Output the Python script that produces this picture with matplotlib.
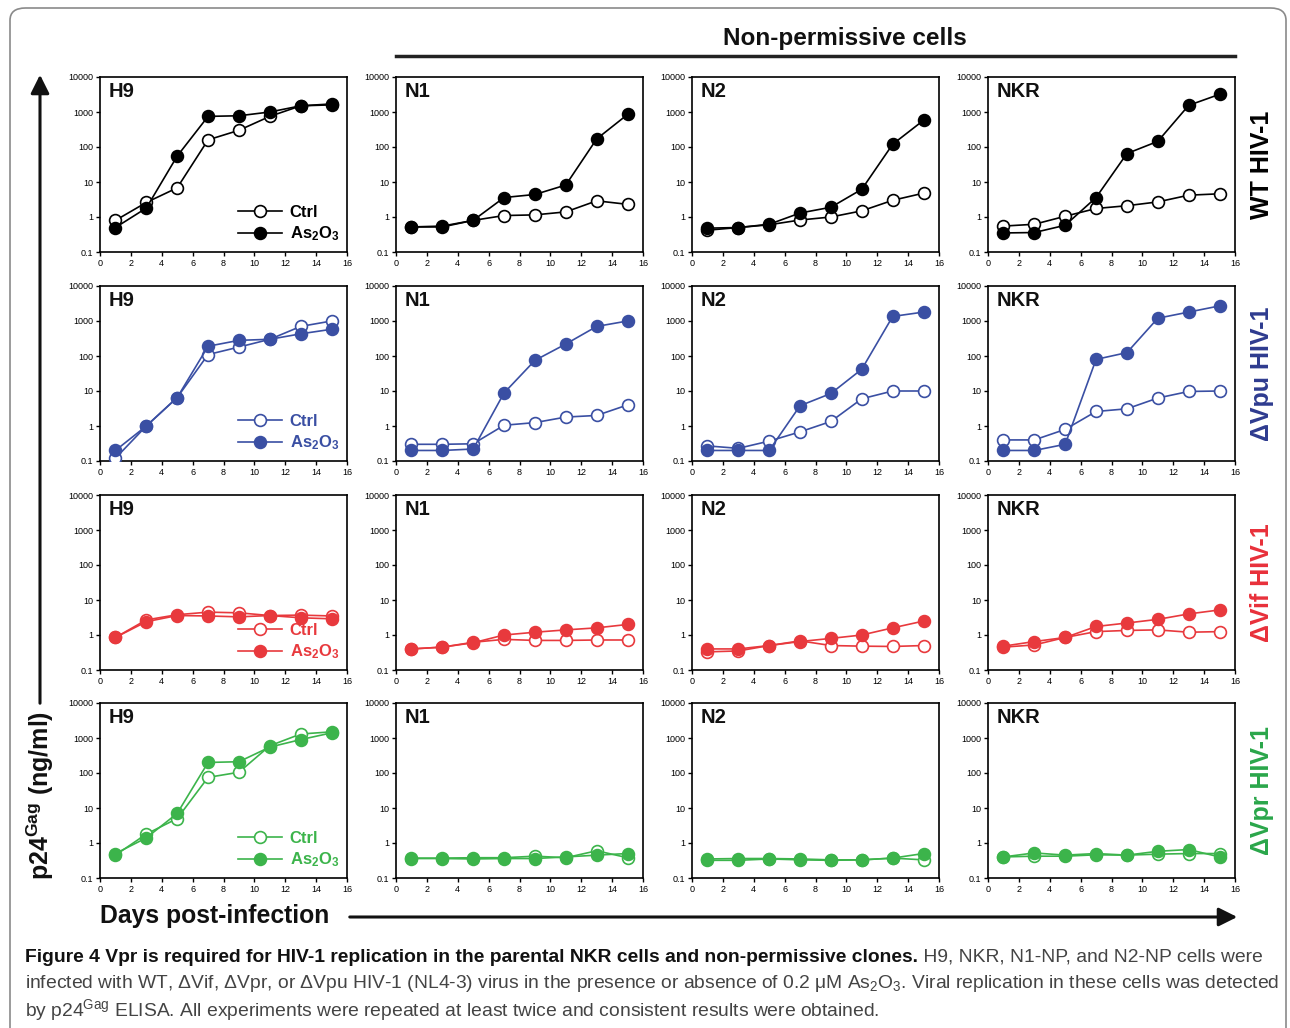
import matplotlib
matplotlib.use('Agg')
import matplotlib.pyplot as plt
from matplotlib.patches import FancyBboxPatch, FancyArrowPatch
from matplotlib.lines import Line2D

plt.rcParams['font.family'] = ['Liberation Sans', 'DejaVu Sans']
plt.rcParams['mathtext.fontset'] = 'custom'
plt.rcParams['mathtext.rm'] = 'Liberation Sans'
plt.rcParams['mathtext.bf'] = 'Liberation Sans:bold'
plt.rcParams['mathtext.it'] = 'Liberation Sans:italic'

days = [1, 3, 5, 7, 9, 11, 13, 15]
cells = ['H9', 'N1', 'N2', 'NKR']
virus_labels = ['WT HIV-1', '\u0394Vpu HIV-1', '\u0394Vif HIV-1', '\u0394Vpr HIV-1']
line_colors = ['#000000', '#3a4fa3', '#e8393d', '#3cb44b']
label_colors = ['#000000', '#2e3b8f', '#e8303a', '#2aa64a']

# WT HIV-1
wt_ctrl_h9 = [0.8, 2.6, 6.8, 160, 300, 750, 1500, 1700]
wt_as_h9 = [0.5, 1.8, 55, 750, 780, 1000, 1500, 1600]
wt_ctrl_n1 = [0.52, 0.52, 0.8, 1.1, 1.15, 1.4, 2.9, 2.3]
wt_as_n1 = [0.52, 0.55, 0.8, 3.6, 4.4, 8.2, 170, 850]
wt_ctrl_n2 = [0.42, 0.5, 0.6, 0.82, 1.0, 1.5, 3.0, 4.8]
wt_as_n2 = [0.48, 0.5, 0.62, 1.3, 1.9, 6.2, 120, 580]
wt_ctrl_nkr = [0.55, 0.62, 1.05, 1.75, 2.1, 2.7, 4.2, 4.6]
wt_as_nkr = [0.35, 0.36, 0.58, 3.6, 65, 145, 1550, 3200]

# dVpu HIV-1
vpu_ctrl_h9 = [0.12, 1.0, 6.5, 110, 180, 300, 700, 1000]
vpu_as_h9 = [0.2, 1.0, 6.5, 190, 280, 300, 430, 580]
vpu_ctrl_n1 = [0.3, 0.3, 0.31, 1.05, 1.25, 1.8, 2.0, 4.0]
vpu_as_n1 = [0.2, 0.2, 0.22, 8.8, 75, 220, 700, 1000]
vpu_ctrl_n2 = [0.27, 0.23, 0.37, 0.68, 1.35, 6.0, 10, 10]
vpu_as_n2 = [0.2, 0.2, 0.2, 3.8, 8.5, 42, 1350, 1800]
vpu_ctrl_nkr = [0.4, 0.4, 0.8, 2.6, 3.1, 6.3, 9.7, 10]
vpu_as_nkr = [0.2, 0.2, 0.3, 80, 125, 1200, 1800, 2700]

# dVif HIV-1
vif_ctrl_h9 = [0.85, 2.7, 3.8, 4.5, 4.3, 3.6, 3.7, 3.5]
vif_as_h9 = [0.85, 2.4, 3.6, 3.5, 3.3, 3.6, 3.1, 2.9]
vif_ctrl_n1 = [0.4, 0.45, 0.62, 0.75, 0.7, 0.7, 0.72, 0.72]
vif_as_n1 = [0.4, 0.45, 0.6, 1.0, 1.2, 1.4, 1.6, 2.0]
vif_ctrl_n2 = [0.33, 0.35, 0.5, 0.68, 0.5, 0.48, 0.47, 0.5]
vif_as_n2 = [0.4, 0.4, 0.5, 0.65, 0.8, 1.0, 1.6, 2.5]
vif_ctrl_nkr = [0.45, 0.52, 0.85, 1.25, 1.35, 1.4, 1.2, 1.25]
vif_as_nkr = [0.48, 0.65, 0.85, 1.75, 2.2, 2.8, 4.0, 5.2]

# dVpr HIV-1
vpr_ctrl_h9 = [0.45, 1.8, 5.0, 75, 105, 600, 1300, 1500]
vpr_as_h9 = [0.5, 1.4, 7.0, 200, 210, 550, 900, 1400]
vpr_ctrl_n1 = [0.37, 0.37, 0.38, 0.38, 0.42, 0.38, 0.6, 0.38]
vpr_as_n1 = [0.36, 0.36, 0.35, 0.36, 0.36, 0.4, 0.45, 0.5]
vpr_ctrl_n2 = [0.32, 0.32, 0.35, 0.33, 0.32, 0.33, 0.37, 0.33]
vpr_as_n2 = [0.35, 0.36, 0.36, 0.35, 0.33, 0.33, 0.37, 0.5]
vpr_ctrl_nkr = [0.4, 0.42, 0.42, 0.46, 0.45, 0.48, 0.5, 0.5]
vpr_as_nkr = [0.4, 0.52, 0.45, 0.5, 0.45, 0.58, 0.65, 0.4]

ctrl_rows = [
    [wt_ctrl_h9, wt_ctrl_n1, wt_ctrl_n2, wt_ctrl_nkr],
    [vpu_ctrl_h9, vpu_ctrl_n1, vpu_ctrl_n2, vpu_ctrl_nkr],
    [vif_ctrl_h9, vif_ctrl_n1, vif_ctrl_n2, vif_ctrl_nkr],
    [vpr_ctrl_h9, vpr_ctrl_n1, vpr_ctrl_n2, vpr_ctrl_nkr],
]
as_rows = [
    [wt_as_h9, wt_as_n1, wt_as_n2, wt_as_nkr],
    [vpu_as_h9, vpu_as_n1, vpu_as_n2, vpu_as_nkr],
    [vif_as_h9, vif_as_n1, vif_as_n2, vif_as_nkr],
    [vpr_as_h9, vpr_as_n1, vpr_as_n2, vpr_as_nkr],
]

W, H = 1290, 1028
fig = plt.figure(figsize=(W / 100, H / 100), dpi=100)

# rounded frame around the whole figure
frame = FancyBboxPatch((10 / W, -20 / H), 1276 / W, 1040 / H,
                       boxstyle='round,pad=0,rounding_size=0.012',
                       transform=fig.transFigure, fill=False,
                       edgecolor='#8a8a8a', lw=1.2)
fig.add_artist(frame)

col_x = [100, 396, 692, 988]
row_y = [77, 286, 495, 703]
aw, ah = 247, 175

yticks = [0.1, 1, 10, 100, 1000, 10000]
ytick_labels = ['0.1', '1', '10', '100', '1000', '10000']

for r in range(4):
    c_line = line_colors[r]
    for c in range(4):
        ax = fig.add_axes([col_x[c] / W, 1 - (row_y[r] + ah) / H, aw / W, ah / H])
        ax.plot(days, ctrl_rows[r][c], '-o', color=c_line, lw=1.2, ms=8.5,
                mfc='white', mec=c_line, mew=1.2, label='Ctrl', zorder=3)
        ax.plot(days, as_rows[r][c], '-o', color=c_line, lw=1.2, ms=8.5,
                mfc=c_line, mec=c_line, mew=1.2,
                label=r'As$_{\mathbf{2}}$O$_{\mathbf{3}}$', zorder=3)
        ax.set_yscale('log')
        ax.set_ylim(0.1, 10000)
        ax.set_xlim(0, 16)
        ax.set_xticks(range(0, 17, 2))
        ax.set_yticks(yticks)
        ax.set_yticklabels(ytick_labels)
        ax.minorticks_off()
        ax.tick_params(labelsize=6.5, length=3, width=1, pad=2, colors='black')
        for s in ax.spines.values():
            s.set_linewidth(1.2)
        ax.text(0.035, 0.97, cells[c], transform=ax.transAxes, fontsize=14.5,
                fontweight='bold', va='top', ha='left', color='#111111')
        if c == 0:
            leg = ax.legend(loc='lower right', bbox_to_anchor=(1.03, -0.035),
                            frameon=False, handlelength=2.6, handletextpad=0.5,
                            labelspacing=0.25,
                            prop={'weight': 'bold', 'size': 12})
            for t in leg.get_texts():
                t.set_color(c_line)
    fig.text(1262 / W, 1 - (row_y[r] + ah / 2) / H, virus_labels[r],
             rotation=90, ha='center', va='center', fontsize=18,
             fontweight='bold', color=label_colors[r])

# header
fig.text(845 / W, 1 - 38 / H, 'Non-permissive cells', ha='center', va='center',
         fontsize=17.5, fontweight='bold', color='#111111')
fig.add_artist(Line2D([396 / W, 1235 / W], [1 - 56 / H, 1 - 56 / H],
                      transform=fig.transFigure, color='#222222', lw=2.5))

# axis arrows
fig.add_artist(FancyArrowPatch((40 / W, 1 - 706 / H), (40 / W, 1 - 72 / H),
                               transform=fig.transFigure, arrowstyle='-|>',
                               mutation_scale=28, lw=2.2, color='#111111'))
fig.add_artist(FancyArrowPatch((347 / W, 1 - 917 / H), (1240 / W, 1 - 917 / H),
                               transform=fig.transFigure, arrowstyle='-|>',
                               mutation_scale=28, lw=2.2, color='#111111'))
fig.text(40 / W, 1 - 795 / H, r'p24$^{\mathbf{Gag}}$ (ng/ml)', rotation=90,
         ha='center', va='center', fontsize=18, fontweight='bold',
         color='#111111')
fig.text(100 / W, 1 - 916 / H, 'Days post-infection', ha='left', va='center',
         fontsize=17.8, fontweight='bold', color='#111111')

# caption
cap_font = ['Liberation Sans']
cap_size = 13.9
bold_part = ('Figure 4 Vpr is required for HIV-1 replication in the parental '
             'NKR cells and non-permissive clones.')
t1 = fig.text(25 / W, 1 - 957 / H, bold_part, ha='left', va='center',
              fontsize=cap_size, fontweight='bold', family=cap_font,
              color='#111111')
fig.canvas.draw()
bb = t1.get_window_extent(fig.canvas.get_renderer())
fig.text(bb.x1 / W, 1 - 957 / H, ' H9, NKR, N1-NP, and N2-NP cells were',
         ha='left', va='center', fontsize=cap_size, family=cap_font,
         color='#444444')
fig.text(25 / W, 1 - 983 / H,
         'infected with WT, \u0394Vif, \u0394Vpr, or \u0394Vpu HIV-1 (NL4-3) '
         'virus in the presence or absence of 0.2 \u03bcM As$_2$O$_3$. Viral '
         'replication in these cells was detected',
         ha='left', va='center', fontsize=cap_size, family=cap_font,
         color='#444444')
fig.text(25 / W, 1 - 1010 / H,
         'by p24$^{\\mathrm{Gag}}$ ELISA. All experiments were repeated at least '
         'twice and consistent results were obtained.',
         ha='left', va='center', fontsize=cap_size, family=cap_font,
         color='#444444')

fig.savefig('out.png', dpi=100)
